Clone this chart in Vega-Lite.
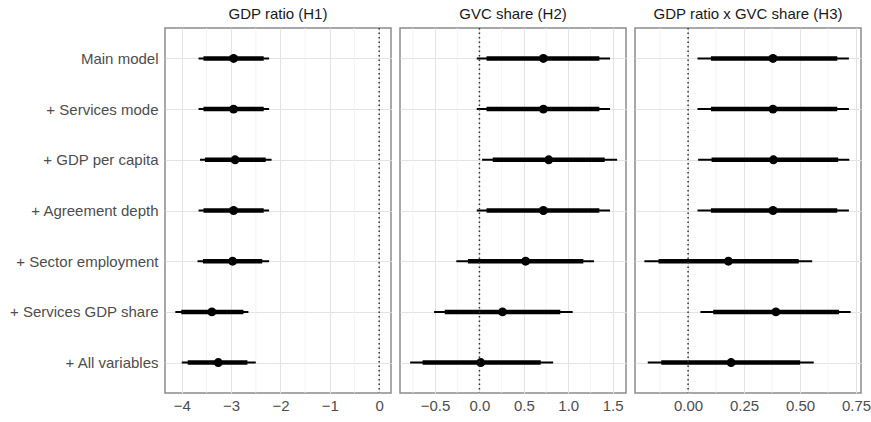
{
  "$schema": "https://vega.github.io/schema/vega-lite/v6.json",
  "padding": {"left": 8, "top": 6, "right": 0, "bottom": 5},
  "background": "white",
  "config": {
    "font": "Liberation Sans",
    "view": {"stroke": "#8c8c8c", "strokeWidth": 1.5},
    "axis": {"labelFont": "Liberation Sans", "labelColor": "#4d4d4d", "labelFontSize": 15, "ticks": false, "domain": false, "title": null, "gridColor": "#e3e3e3", "gridWidth": 1.1, "labelOverlap": false},
    "title": {"font": "Liberation Sans", "fontSize": 15, "fontWeight": "normal", "color": "#1a1a1a", "offset": 5}
  },
  "datasets": {
    "h1": [
      {"model": "Main model", "est": -2.95, "lo95": -3.66, "lo90": -3.56, "hi90": -2.34, "hi95": -2.23},
      {"model": "+ Services mode", "est": -2.95, "lo95": -3.66, "lo90": -3.56, "hi90": -2.34, "hi95": -2.23},
      {"model": "+ GDP per capita", "est": -2.92, "lo95": -3.63, "lo90": -3.53, "hi90": -2.30, "hi95": -2.18},
      {"model": "+ Agreement depth", "est": -2.95, "lo95": -3.66, "lo90": -3.56, "hi90": -2.34, "hi95": -2.23},
      {"model": "+ Sector employment", "est": -2.97, "lo95": -3.68, "lo90": -3.57, "hi90": -2.37, "hi95": -2.23},
      {"model": "+ Services GDP share", "est": -3.39, "lo95": -4.13, "lo90": -4.01, "hi90": -2.75, "hi95": -2.65},
      {"model": "+ All variables", "est": -3.26, "lo95": -4.00, "lo90": -3.88, "hi90": -2.67, "hi95": -2.50}
    ],
    "h2": [
      {"model": "Main model", "est": 0.72, "lo95": -0.03, "lo90": 0.08, "hi90": 1.35, "hi95": 1.47},
      {"model": "+ Services mode", "est": 0.72, "lo95": -0.03, "lo90": 0.08, "hi90": 1.35, "hi95": 1.47},
      {"model": "+ GDP per capita", "est": 0.78, "lo95": 0.03, "lo90": 0.15, "hi90": 1.41, "hi95": 1.55},
      {"model": "+ Agreement depth", "est": 0.72, "lo95": -0.03, "lo90": 0.08, "hi90": 1.35, "hi95": 1.47},
      {"model": "+ Sector employment", "est": 0.52, "lo95": -0.26, "lo90": -0.13, "hi90": 1.17, "hi95": 1.29},
      {"model": "+ Services GDP share", "est": 0.26, "lo95": -0.51, "lo90": -0.39, "hi90": 0.91, "hi95": 1.05},
      {"model": "+ All variables", "est": 0.015, "lo95": -0.78, "lo90": -0.64, "hi90": 0.69, "hi95": 0.83}
    ],
    "h3": [
      {"model": "Main model", "est": 0.379, "lo95": 0.042, "lo90": 0.102, "hi90": 0.666, "hi95": 0.718},
      {"model": "+ Services mode", "est": 0.379, "lo95": 0.042, "lo90": 0.102, "hi90": 0.666, "hi95": 0.718},
      {"model": "+ GDP per capita", "est": 0.381, "lo95": 0.045, "lo90": 0.105, "hi90": 0.670, "hi95": 0.720},
      {"model": "+ Agreement depth", "est": 0.379, "lo95": 0.042, "lo90": 0.102, "hi90": 0.666, "hi95": 0.718},
      {"model": "+ Sector employment", "est": 0.18, "lo95": -0.195, "lo90": -0.132, "hi90": 0.494, "hi95": 0.554},
      {"model": "+ Services GDP share", "est": 0.392, "lo95": 0.055, "lo90": 0.112, "hi90": 0.674, "hi95": 0.726},
      {"model": "+ All variables", "est": 0.192, "lo95": -0.18, "lo90": -0.12, "hi90": 0.50, "hi95": 0.561}
    ],
    "m1": [{"v": -3.5}, {"v": -2.5}, {"v": -1.5}, {"v": -0.5}],
    "m2": [{"v": -0.75}, {"v": -0.25}, {"v": 0.25}, {"v": 0.75}, {"v": 1.25}],
    "m3": [{"v": -0.125}, {"v": 0.125}, {"v": 0.375}, {"v": 0.625}],
    "zero": [{"zero": 0}]
  },
  "spacing": 7,
  "hconcat": [
    {
      "width": 226, "height": 365,
      "title": "GDP ratio (H1)",
      "layer": [
        {"data": {"name": "m1"},
         "mark": {"type": "rule", "color": "#eeeeee", "strokeWidth": 0.7},
         "encoding": {"x": {"field": "v", "type": "quantitative",
            "scale": {"domain": [-4.34, 0.24], "nice": false, "zero": false},
            "axis": {"values": [-4, -3, -2, -1, 0], "format": "d", "labelPadding": 5, "grid": true}}}},
        {"data": {"name": "h1"},
         "mark": {"type": "rule", "color": "black", "strokeWidth": 2},
         "encoding": {
           "y": {"field": "model", "type": "nominal", "sort": ["Main model", "+ Services mode", "+ GDP per capita", "+ Agreement depth", "+ Sector employment", "+ Services GDP share", "+ All variables"],
             "scale": {"type": "point", "padding": 0.6},
             "axis": {"grid": true, "labelPadding": 7}},
           "x": {"field": "lo95", "type": "quantitative"},
           "x2": {"field": "hi95"}}},
        {"data": {"name": "h1"},
         "mark": {"type": "rule", "color": "black", "strokeWidth": 4.5},
         "encoding": {"y": {"field": "model", "type": "nominal", "sort": ["Main model", "+ Services mode", "+ GDP per capita", "+ Agreement depth", "+ Sector employment", "+ Services GDP share", "+ All variables"]},
           "x": {"field": "lo90", "type": "quantitative"}, "x2": {"field": "hi90"}}},
        {"data": {"name": "h1"},
         "mark": {"type": "point", "filled": true, "color": "black", "opacity": 1, "size": 80},
         "encoding": {"y": {"field": "model", "type": "nominal", "sort": ["Main model", "+ Services mode", "+ GDP per capita", "+ Agreement depth", "+ Sector employment", "+ Services GDP share", "+ All variables"]},
           "x": {"field": "est", "type": "quantitative"}}},
        {"data": {"name": "zero"},
         "mark": {"type": "rule", "color": "#333333", "strokeWidth": 1.5, "strokeDash": [1.5, 3]},
         "encoding": {"x": {"field": "zero", "type": "quantitative"}}}
      ]
    },
    {
      "width": 226, "height": 365,
      "title": "GVC share (H2)",
      "layer": [
        {"data": {"name": "m2"},
         "mark": {"type": "rule", "color": "#eeeeee", "strokeWidth": 0.7},
         "encoding": {"x": {"field": "v", "type": "quantitative",
            "scale": {"domain": [-0.894, 1.65], "nice": false, "zero": false},
            "axis": {"values": [-0.5, 0, 0.5, 1, 1.5], "format": ".1f", "labelPadding": 5, "grid": true}}}},
        {"data": {"name": "h2"},
         "mark": {"type": "rule", "color": "black", "strokeWidth": 2},
         "encoding": {
           "y": {"field": "model", "type": "nominal", "sort": ["Main model", "+ Services mode", "+ GDP per capita", "+ Agreement depth", "+ Sector employment", "+ Services GDP share", "+ All variables"],
             "scale": {"type": "point", "padding": 0.6},
             "axis": {"grid": true, "labels": false}},
           "x": {"field": "lo95", "type": "quantitative"},
           "x2": {"field": "hi95"}}},
        {"data": {"name": "h2"},
         "mark": {"type": "rule", "color": "black", "strokeWidth": 4.5},
         "encoding": {"y": {"field": "model", "type": "nominal", "sort": ["Main model", "+ Services mode", "+ GDP per capita", "+ Agreement depth", "+ Sector employment", "+ Services GDP share", "+ All variables"]},
           "x": {"field": "lo90", "type": "quantitative"}, "x2": {"field": "hi90"}}},
        {"data": {"name": "h2"},
         "mark": {"type": "point", "filled": true, "color": "black", "opacity": 1, "size": 80},
         "encoding": {"y": {"field": "model", "type": "nominal", "sort": ["Main model", "+ Services mode", "+ GDP per capita", "+ Agreement depth", "+ Sector employment", "+ Services GDP share", "+ All variables"]},
           "x": {"field": "est", "type": "quantitative"}}},
        {"data": {"name": "zero"},
         "mark": {"type": "rule", "color": "#333333", "strokeWidth": 1.5, "strokeDash": [1.5, 3]},
         "encoding": {"x": {"field": "zero", "type": "quantitative"}}}
      ]
    },
    {
      "width": 226, "height": 365,
      "title": "GDP ratio x GVC share (H3)",
      "layer": [
        {"data": {"name": "m3"},
         "mark": {"type": "rule", "color": "#eeeeee", "strokeWidth": 0.7},
         "encoding": {"x": {"field": "v", "type": "quantitative",
            "scale": {"domain": [-0.237, 0.772], "nice": false, "zero": false},
            "axis": {"values": [0, 0.25, 0.5, 0.75], "format": ".2f", "labelPadding": 5, "grid": true}}}},
        {"data": {"name": "h3"},
         "mark": {"type": "rule", "color": "black", "strokeWidth": 2},
         "encoding": {
           "y": {"field": "model", "type": "nominal", "sort": ["Main model", "+ Services mode", "+ GDP per capita", "+ Agreement depth", "+ Sector employment", "+ Services GDP share", "+ All variables"],
             "scale": {"type": "point", "padding": 0.6},
             "axis": {"grid": true, "labels": false}},
           "x": {"field": "lo95", "type": "quantitative"},
           "x2": {"field": "hi95"}}},
        {"data": {"name": "h3"},
         "mark": {"type": "rule", "color": "black", "strokeWidth": 4.5},
         "encoding": {"y": {"field": "model", "type": "nominal", "sort": ["Main model", "+ Services mode", "+ GDP per capita", "+ Agreement depth", "+ Sector employment", "+ Services GDP share", "+ All variables"]},
           "x": {"field": "lo90", "type": "quantitative"}, "x2": {"field": "hi90"}}},
        {"data": {"name": "h3"},
         "mark": {"type": "point", "filled": true, "color": "black", "opacity": 1, "size": 80},
         "encoding": {"y": {"field": "model", "type": "nominal", "sort": ["Main model", "+ Services mode", "+ GDP per capita", "+ Agreement depth", "+ Sector employment", "+ Services GDP share", "+ All variables"]},
           "x": {"field": "est", "type": "quantitative"}}},
        {"data": {"name": "zero"},
         "mark": {"type": "rule", "color": "#333333", "strokeWidth": 1.5, "strokeDash": [1.5, 3]},
         "encoding": {"x": {"field": "zero", "type": "quantitative"}}}
      ]
    }
  ]
}
